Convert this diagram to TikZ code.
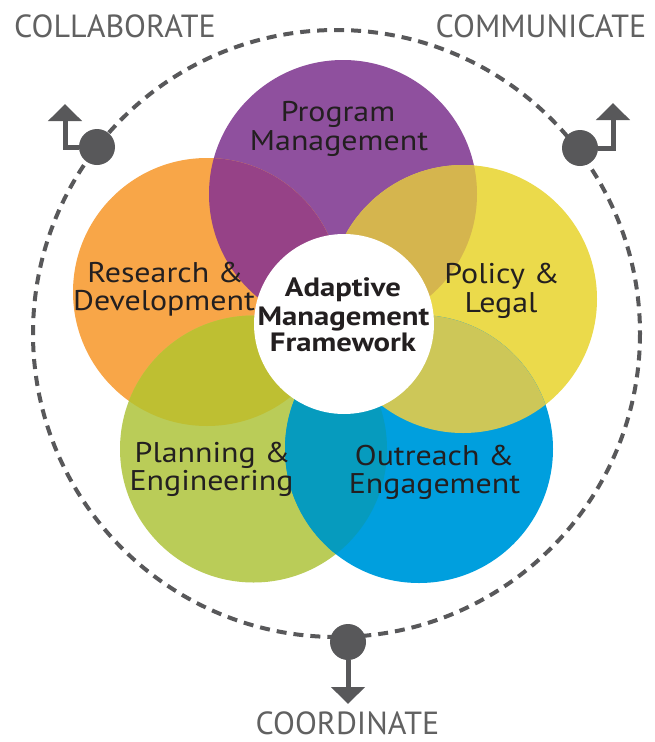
\documentclass[tikz,border=0pt]{standalone}
\usepackage{fontspec}
\setmainfont{PT Sans}
\newfontfamily\petalfont[FakeStretch=1.12]{PT Sans}
\newfontfamily\corefont[FakeStretch=1.16]{PT Sans}
\usetikzlibrary{arrows.meta}
\definecolor{cpurple}{RGB}{143,80,158}
\definecolor{corange}{RGB}{248,166,72}
\definecolor{cyellow}{RGB}{235,218,75}
\definecolor{cgreen}{RGB}{186,204,88}
\definecolor{cblue}{RGB}{0,159,222}
\definecolor{cPO}{RGB}{150,66,135}
\definecolor{cPY}{RGB}{213,181,78}
\definecolor{cOG}{RGB}{190,191,50}
\definecolor{cYB}{RGB}{205,199,88}
\definecolor{cGB}{RGB}{6,155,190}
\definecolor{cgray}{RGB}{88,88,90}
\definecolor{ctext}{RGB}{97,97,97}
\definecolor{cdark}{RGB}{35,31,32}
\begin{document}
\begin{tikzpicture}[x=1pt,y=-1pt,
  ring/.style={draw=cgray,line width=4pt,dash pattern=on 10pt off 7pt},
  dot/.style={circle,fill=cgray,minimum size=36pt,inner sep=0pt},
  conn/.style={draw=cgray,line width=5pt,-{Triangle[width=33pt,length=17pt]}},
  petal/.style={font=\petalfont\fontsize{28.5}{30}\selectfont,text=cdark,anchor=base,inner sep=0pt},
  core/.style={font=\corefont\bfseries\fontsize{26.5}{28}\selectfont,text=cdark,anchor=base,inner sep=0pt},
  verb/.style={font=\fontsize{32}{34}\selectfont,text=ctext,anchor=base,inner sep=0pt}]
\useasboundingbox (0,0) rectangle (654,742);
\fill[white] (0,0) rectangle (654,742);
% outer dashed ring
\draw[ring] (336.5,333.5) circle (303.5);
% petals
\def\PP{(343,194) circle (134)}
\def\PO{(207,292) circle (134)}
\def\PY{(463,299) circle (134)}
\def\PG{(253.5,449) circle (133.5)}
\def\PB{(419,449) circle (134)}
\fill[cpurple] \PP;
\fill[corange] \PO;
\fill[cyellow] \PY;
\fill[cgreen] \PG;
\fill[cblue] \PB;
\begin{scope}\clip \PP; \fill[cPO] \PO; \end{scope}
\begin{scope}\clip \PP; \fill[cPY] \PY; \end{scope}
\begin{scope}\clip \PO; \fill[cOG] \PG; \end{scope}
\begin{scope}\clip \PY; \fill[cYB] \PB; \end{scope}
\begin{scope}\clip \PG; \fill[cGB] \PB; \end{scope}
\fill[white] (344,324) circle (90);
% labels
\node[petal] (pm1) at (338,121.7) {Program};
\node[petal] (pm2) at (339,150) {Management};
\node[petal] (rd1) at (165.5,282) {Research \&};
\node[petal] (rd2) at (164,310) {Development};
\node[petal] (pl1) at (502,283) {Policy \&};
\node[petal] (pl2) at (501,312) {Legal};
\node[petal] (pe1) at (212.5,462) {Planning \&};
\node[petal] (pe2) at (211.5,490) {Engineering};
\node[petal] (oe1) at (434.5,465) {Outreach \&};
\node[petal] (oe2) at (434.5,493) {Engagement};
\node[core] (c1) at (343,296.7) {Adaptive};
\node[core] (c2) at (343.5,325) {Management};
\node[core] (c3) at (343,351.7) {Framework};
\node[verb] (v1) at (115,37) {COLLABORATE};
\node[verb] (v2) at (541,37) {COMMUNICATE};
\node[verb] (v3) at (347.5,734) {COORDINATE};
% dots and arrows
\coordinate (tl) at (65,104);
\coordinate (tr) at (613,103);
\coordinate (bt) at (348,704);
\node[dot] (dl) at (97,147) {};
\node[dot] (dr) at (580,148) {};
\node[dot] (db) at (348,642) {};
\draw[conn] (dl.west) -| (tl);
\draw[conn] (dr.east) -| (tr);
\draw[conn] (db.south) -- (bt);
\end{tikzpicture}
\end{document}
